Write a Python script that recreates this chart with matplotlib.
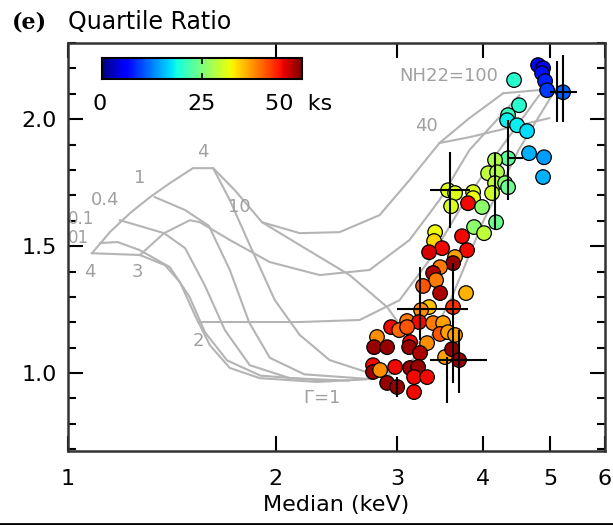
import numpy as np
import matplotlib
matplotlib.use('Agg')
import matplotlib.pyplot as plt
from matplotlib.lines import Line2D

# observed points: median energy (keV), quartile ratio, time (ks)
med = [4.799, 4.880, 4.863, 4.913, 4.946, 5.217, 4.430, 4.504, 4.342, 4.328,
       4.474, 4.626, 4.657, 4.896, 4.880, 4.342, 4.157, 4.062, 4.185, 4.157,
       4.299, 4.342, 4.116, 3.554, 3.638, 3.864, 3.864, 3.799, 3.981, 3.590,
       4.172, 3.876, 4.008, 3.404, 3.392, 3.724, 3.484, 3.336, 3.787, 3.638,
       3.614, 3.461, 3.381, 3.415, 3.270, 3.461, 3.774, 3.336, 3.248, 3.614,
       3.100, 3.226, 3.381, 3.496, 2.939, 3.019, 3.100, 3.461, 3.554, 3.638,
       2.804, 2.777, 2.900, 3.131, 3.121, 3.314, 3.237, 3.519, 3.602, 3.687,
       2.767, 2.767, 2.833, 2.979, 3.131, 3.216, 3.173, 3.314, 2.900, 2.999,
       3.173]
qr = [2.213, 2.201, 2.181, 2.150, 2.114, 2.106, 2.154, 2.055, 2.016, 1.996,
      1.976, 1.953, 1.866, 1.850, 1.772, 1.846, 1.839, 1.787, 1.791, 1.748,
      1.748, 1.732, 1.709, 1.720, 1.709, 1.713, 1.689, 1.669, 1.654, 1.657,
      1.594, 1.575, 1.551, 1.555, 1.520, 1.539, 1.492, 1.476, 1.484, 1.457,
      1.433, 1.417, 1.394, 1.366, 1.343, 1.315, 1.315, 1.260, 1.248, 1.260,
      1.205, 1.201, 1.197, 1.197, 1.181, 1.169, 1.181, 1.154, 1.161, 1.150,
      1.142, 1.102, 1.102, 1.122, 1.102, 1.118, 1.079, 1.063, 1.094, 1.051,
      1.031, 1.004, 1.012, 1.024, 1.020, 1.024, 0.984, 0.984, 0.961, 0.945,
      0.925]
tks = [5, 6, 7, 8, 9, 11, 20, 20, 21, 18,
       18, 17, 15, 14, 15, 23, 28, 29, 28, 29,
       26, 24, 30, 31, 31, 31, 32, 45, 26, 31,
       24, 26, 29, 32, 34, 45, 45, 46, 45, 37,
       49, 39, 48, 39, 41, 48, 36, 35, 38, 43,
       39, 45, 39, 37, 45, 40, 41, 41, 37, 37,
       38, 49, 49, 45, 49, 38, 48, 37, 49, 49,
       45, 49, 38, 45, 49, 49, 45, 45, 49, 49,
       45]

# error bars: centre and ranges
eb_x = [5.217, 5.113, 4.342, 4.157, 3.578, 3.237, 3.381, 3.614, 3.543, 3.687, 2.999]
eb_y = [2.106, 2.120, 1.846, 1.748, 1.720, 1.248, 1.252, 1.260, 0.980, 1.050, 0.945]
eb_xlo = [4.995, 5.113, 4.342, 4.157, 3.347, 3.237, 3.000, 3.614, 3.543, 3.347, 2.999]
eb_xhi = [5.466, 5.113, 4.564, 4.157, 3.825, 3.237, 3.799, 3.614, 3.543, 4.048, 2.999]
eb_ylo = [1.988, 1.990, 1.681, 1.563, 1.571, 1.130, 1.252, 0.961, 0.882, 0.921, 0.906]
eb_yhi = [2.252, 2.230, 1.996, 1.866, 1.870, 1.417, 1.252, 1.433, 1.063, 1.169, 0.984]

# model grid, constant photon index (NH rising along each curve)
gam4 = [(1.083, 1.472), (1.150, 1.555), (1.230, 1.630), (1.315, 1.693), (1.405, 1.748),
        (1.517, 1.807), (1.623, 1.807), (1.745, 1.720), (1.911, 1.594), (2.167, 1.551),
        (2.475, 1.555), (2.828, 1.622), (3.125, 1.760), (3.453, 1.906), (3.816, 2.004),
        (4.272, 2.102)]
gam3 = [(1.271, 1.465), (1.378, 1.551), (1.502, 1.602), (1.553, 1.594), (1.716, 1.524),
        (1.961, 1.437), (2.316, 1.386), (2.735, 1.406), (3.125, 1.524), (3.453, 1.681),
        (3.816, 1.878), (4.507, 2.094)]
gam2 = [(1.544, 1.201), (1.774, 1.201), (2.167, 1.201), (2.646, 1.209), (3.023, 1.287),
        (3.340, 1.445), (3.691, 1.642), (4.216, 1.878), (4.817, 2.094)]
gam1 = [(2.29, 0.965), (2.70, 0.975), (3.00, 1.000), (3.30, 1.100), (3.60, 1.300),
        (4.00, 1.600), (4.50, 1.880), (5.09, 2.118)]
# constant NH curves (photon index falling from 4 to 1)
nh001 = [(1.083, 1.472), (1.271, 1.465), (1.382, 1.425), (1.453, 1.358), (1.527, 1.228),
         (1.605, 1.110), (1.716, 1.020), (1.896, 0.980), (2.29, 0.965)]
nh01 = [(1.113, 1.512), (1.18, 1.516), (1.271, 1.484), (1.405, 1.417), (1.50, 1.30),
        (1.58, 1.16), (1.70, 1.05), (1.90, 0.99), (2.40, 0.968)]
nh04 = [(1.189, 1.602), (1.271, 1.579), (1.378, 1.551), (1.478, 1.492), (1.578, 1.346),
        (1.688, 1.169), (1.834, 1.031), (2.096, 0.980), (2.55, 0.970)]
nh1 = [(1.336, 1.693), (1.478, 1.642), (1.60, 1.58), (1.716, 1.406), (1.83, 1.20),
       (1.961, 1.06), (2.20, 0.995), (2.75, 0.976)]
nh4 = [(1.623, 1.807), (1.716, 1.681), (1.834, 1.504), (1.994, 1.287), (2.167, 1.150),
       (2.394, 1.051), (2.70, 1.005), (3.00, 1.000)]
nh10 = [(1.911, 1.594), (2.167, 1.504), (2.559, 1.386), (2.90, 1.26), (3.10, 1.15),
        (3.30, 1.10)]
nh40 = [(3.453, 1.906), (3.816, 1.929), (4.216, 1.957), (4.98, 2.004)]
nh100 = [(4.272, 2.102), (4.98, 2.118)]

fig = plt.figure(figsize=(6.13, 5.25), dpi=100)
ax = fig.add_axes([68 / 613, 1 - 451 / 525, 537 / 613, 408 / 525])

gray = '#b4b4b4'
for crv in [gam4, gam3, gam2, gam1, nh001, nh01, nh04, nh1, nh4, nh10, nh40, nh100]:
    xs, ys = zip(*crv)
    ax.plot(xs, ys, color=gray, lw=1.5, zorder=1)

lab = dict(color='#a0a0a0', fontsize=13, ha='center', va='center', zorder=2)
ax.text(1.57, 1.87, '4', **lab)
ax.text(1.27, 1.77, '1', **lab)
ax.text(1.13, 1.68, '0.4', **lab)
ax.text(1.0, 1.607, '0.1', **dict(lab, ha='left', fontsize=12))
ax.text(1.0, 1.532, '01', **dict(lab, ha='left', fontsize=12))
ax.text(1.076, 1.40, '4', **lab)
ax.text(1.259, 1.40, '3', **lab)
ax.text(1.544, 1.126, '2', **lab)
ax.text(2.33, 0.90, r'$\Gamma$=1', **lab)
ax.text(1.774, 1.654, '10', **lab)
ax.text(3.31, 1.975, '40', **lab)
ax.text(3.02, 2.17, 'NH22=100', **dict(lab, ha='left'))

cmap = plt.get_cmap('jet')
ax.scatter(med, qr, c=tks, cmap=cmap, vmin=0, vmax=50, s=110,
           edgecolors='black', linewidths=0.9, zorder=3)

ex = np.array(eb_x)
ey = np.array(eb_y)
xerr = [ex - np.array(eb_xlo), np.array(eb_xhi) - ex]
yerr = [ey - np.array(eb_ylo), np.array(eb_yhi) - ey]
ax.errorbar(ex, ey, xerr=xerr, yerr=yerr, fmt='none', ecolor='black',
            elinewidth=1.5, capsize=0, zorder=4)

ax.set_xscale('log')
ax.set_xlim(1, 6)
ax.set_ylim(0.693, 2.30)
ax.set_xticks([1, 2, 3, 4, 5, 6])
ax.set_xticklabels(['1', '2', '3', '4', '5', '6'])
ax.xaxis.set_minor_locator(matplotlib.ticker.NullLocator())
ax.set_yticks([1.0, 1.5, 2.0])
ax.set_yticklabels(['1.0', '1.5', '2.0'])
ax.yaxis.set_minor_locator(matplotlib.ticker.MultipleLocator(0.1))
ax.tick_params(which='both', direction='in', top=True, right=True,
               labelsize=16, width=1.5)
ax.tick_params(axis='x', pad=13)
ax.tick_params(axis='y', pad=8)
ax.tick_params(which='major', length=11)
ax.tick_params(which='minor', length=6)
for s in ax.spines.values():
    s.set_linewidth(1.8)
    s.set_color('#333333')
ax.set_xlabel('Median (keV)', fontsize=16, labelpad=4)

fig.text(12 / 613, 1 - 22 / 525, '(e)', fontsize=16, fontweight='bold',
         family='DejaVu Serif', va='center')
fig.text(68 / 613, 1 - 22 / 525, 'Quartile Ratio', fontsize=17, va='center')

# colour bar inset
cax = fig.add_axes([102 / 613, 1 - 79 / 525, 200 / 613, 21 / 525])
cax.imshow(np.linspace(0, 1, 256)[None, :], aspect='auto', cmap=cmap,
           extent=[0, 50, 0, 1])
cax.set_xticks([25])
cax.set_yticks([])
cax.tick_params(direction='in', top=True, bottom=True, labelbottom=False,
                length=4, width=1.2)
for s in cax.spines.values():
    s.set_linewidth(1.5)
fig.text(100 / 613, 1 - 104 / 525, '0', fontsize=16, ha='center', va='center')
fig.text(202 / 613, 1 - 104 / 525, '25', fontsize=16, ha='center', va='center')
fig.text(265 / 613, 1 - 104 / 525, '50  ks', fontsize=16, ha='left', va='center')

fig.add_artist(Line2D([0, 1], [1.5 / 525, 1.5 / 525], color='black', lw=2))

fig.savefig('out.png', dpi=100)
